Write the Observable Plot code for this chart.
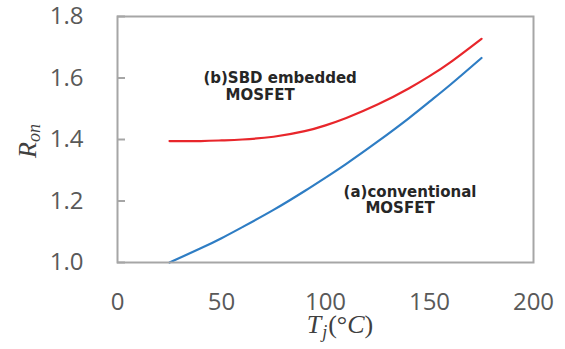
<!DOCTYPE html>
<html>
<head>
<meta charset="utf-8">
<script src="https://cdn.jsdelivr.net/npm/d3@7"></script>
<script src="https://cdn.jsdelivr.net/npm/@observablehq/plot@0.6"></script>
<style>
  html, body { margin: 0; padding: 0; background: #fff; }
  #chart svg { display: block; }
</style>
</head>
<body>
<div id="chart"></div>
<script>
// Junction temperature (°C)
const tj = [25, 40, 50, 60, 75, 90, 100, 110, 125, 140, 150, 160, 175];
// (b) SBD embedded MOSFET
const ronSbd = [1.395, 1.395, 1.397, 1.400, 1.409, 1.427, 1.446, 1.470, 1.5135, 1.566, 1.606, 1.651, 1.7275];
// (a) conventional MOSFET
const ronConv = [1.000, 1.046, 1.079, 1.115, 1.171, 1.2325, 1.276, 1.321, 1.393, 1.469, 1.523, 1.578, 1.665];

const xTicks = [0, 50, 100, 150, 200];
const yTicks = [1.0, 1.2, 1.4, 1.6, 1.8];

// annotation labels (anchored at data coordinates)
const notes = [
  {t: 41.3, r: 1.585, text: "(b)SBD embedded"},
  {t: 51.9, r: 1.530, text: "MOSFET"},
  {t: 108.7, r: 1.2146, text: "(a)conventional"},
  {t: 119.2, r: 1.1626, text: "MOSFET"}
];

const sbd = tj.map((t, i) => ({t, r: ronSbd[i]}));
const conv = tj.map((t, i) => ({t, r: ronConv[i]}));

const chart = Plot.plot({
  width: 565,
  height: 349,
  marginLeft: 117,
  marginRight: 32,
  marginTop: 16,
  marginBottom: 87,
  style: {fontFamily: "'Open Sans', sans-serif", fontSize: "24px", color: "#595959", background: "#fff", overflow: "visible"},
  x: {domain: [0, 200]},
  y: {domain: [1.0, 1.8]},
  marks: [
    Plot.axisX({ticks: xTicks, tickSize: 0, tickPadding: 30, label: null, fontSize: 24}),
    Plot.axisY({ticks: yTicks, tickSize: 0, tickPadding: 34, tickFormat: d => d.toFixed(1), label: null, fontSize: 24}),
    Plot.axisY({ticks: yTicks, tickSize: 8, dx: 8, text: null, label: null, stroke: "#a6a6a6", strokeWidth: 2}),
    Plot.line(conv, {x: "t", y: "r", stroke: "#2e7dc4", strokeWidth: 2.2, curve: "natural"}),
    Plot.line(sbd, {x: "t", y: "r", stroke: "#e8262b", strokeWidth: 2.2, curve: "natural"}),
    Plot.text(notes, {x: "t", y: "r", text: "text", textAnchor: "start", lineAnchor: "bottom",
      fontFamily: "'DejaVu Sans', sans-serif", fontWeight: "bold", fontSize: 15, fill: "#262626"}),
    Plot.frame({stroke: "#a6a6a6", strokeWidth: 2})
  ]
});

document.getElementById("chart").appendChild(chart);

const svg = d3.select(chart);
const serif = "'Liberation Serif', 'DejaVu Serif', serif";

// x-axis title: T_j(°C)
const xl = svg.append("text")
  .attr("x", 340).attr("y", 333)
  .attr("text-anchor", "middle")
  .attr("font-family", serif)
  .attr("font-size", 26)
  .attr("fill", "#404040");
xl.append("tspan").attr("font-style", "italic").text("T");
xl.append("tspan").attr("font-style", "italic").attr("font-size", 18).attr("dx", 1).attr("dy", 5).text("j");
xl.append("tspan").attr("dy", -5).attr("dx", 1).text("(°");
xl.append("tspan").attr("font-style", "italic").text("C");
xl.append("tspan").text(")");

// y-axis title: R_on
const yl = svg.append("text")
  .attr("transform", "translate(36,141) rotate(-90)")
  .attr("text-anchor", "middle")
  .attr("font-family", serif)
  .attr("font-size", 26)
  .attr("font-style", "italic")
  .attr("fill", "#404040");
yl.append("tspan").text("R");
yl.append("tspan").attr("font-size", 18).attr("dy", 4).text("on");
</script>
</body>
</html>
